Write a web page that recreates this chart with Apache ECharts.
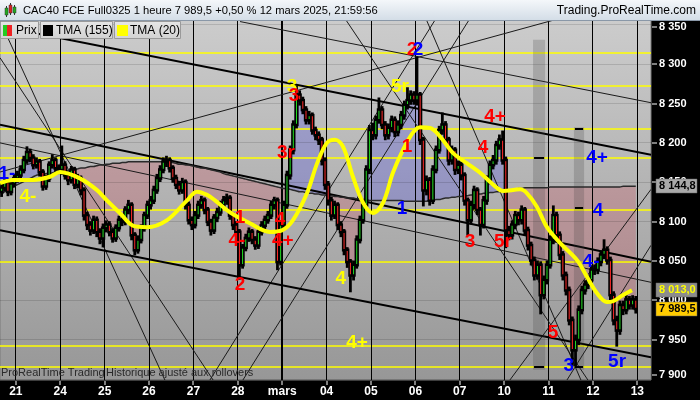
<!DOCTYPE html>
<html><head><meta charset="utf-8">
<script src="https://cdn.jsdelivr.net/npm/echarts@6/dist/echarts.min.js"></script>
<style>html,body{margin:0;padding:0;background:#000}#c{width:700px;height:400px}</style>
</head><body><div id="c"></div><script>
// ---------------- DATA ----------------
const dayLabels = ['21','24','25','26','27','28','mars','04','05','06','07','10','11','12','13'];
const barsPerDay = 14;
const firstDayStart = 5;
const yTicks = [7900,7950,8000,8050,8100,8150,8200,8250,8300,8350];

const open = [8138,8143,8150,8138,8148,
8155,8159,8166,8178,8188,8181,8172,8176,8163,8145,8155,8172,8178,8168,
8166,8172,8159,8153,8166,8147,8155,8140,8108,8096,8089,8102,8087,8079,
8092,8096,8087,8079,8092,8102,8100,8115,8121,8083,8064,8077,8092,8108,
8121,8127,8140,8155,8166,8176,8178,8168,8155,8147,8140,8150,8121,8102,
8096,8108,8121,8127,8115,8100,8089,8105,8112,8121,8127,8130,8108,8096,
8087,8045,8067,8079,8087,8077,8070,8087,8095,8102,8108,8121,8127,8049,
8096,8121,8159,8191,8223,8261,8254,8242,8229,8235,8216,8210,8204,8178,
8147,8127,8108,8121,8096,8087,8064,8049,8032,8045,8077,8102,8121,8166,
8216,8210,8229,8242,8223,8210,8219,8229,8214,8223,8235,8248,8254,8261,
8254,8261,8204,8140,8153,8127,8166,8191,8216,8223,8204,8178,8191,8166,
8172,8159,8127,8102,8121,8140,8115,8096,8127,8153,8172,8178,8197,8204,
8178,8089,8083,8096,8108,8102,8115,8089,8070,8051,8032,8045,8007,8026,
8045,8077,8108,8083,8058,8032,8013,7975,7937,7950,7988,8013,8020,8026,
8039,8039,8049,8058,8064,8051,8007,7975,7962,7994,7988,8001,7994,8001];
const close = [8143,8150,8138,8148,8155,
8159,8166,8178,8188,8181,8172,8176,8163,8145,8155,8172,8178,8168,8166,
8172,8159,8153,8166,8147,8155,8140,8108,8096,8089,8102,8087,8079,8092,
8096,8087,8079,8092,8102,8100,8115,8121,8083,8064,8077,8092,8108,8121,
8127,8140,8155,8166,8176,8178,8168,8155,8147,8140,8150,8121,8102,8096,
8108,8121,8127,8115,8100,8089,8105,8112,8121,8127,8130,8108,8096,8087,
8045,8067,8079,8087,8077,8070,8087,8095,8102,8108,8121,8127,8049,8096,
8121,8159,8191,8223,8261,8254,8242,8229,8235,8216,8210,8204,8178,8147,
8127,8108,8121,8096,8087,8064,8049,8032,8045,8077,8102,8121,8166,8216,
8210,8229,8242,8223,8210,8219,8229,8214,8223,8235,8248,8254,8261,8254,
8261,8204,8140,8153,8127,8166,8191,8216,8223,8204,8178,8191,8166,8172,
8159,8127,8102,8121,8140,8115,8096,8127,8153,8172,8178,8197,8204,8178,
8089,8083,8096,8108,8102,8115,8089,8070,8051,8032,8045,8007,8026,8045,
8077,8108,8083,8058,8032,8013,7975,7937,7950,7988,8013,8020,8026,8039,
8039,8049,8058,8064,8051,8007,7975,7962,7994,7988,8001,7994,8001,7989.5];
const high = [8150,8156,8154,8152,8160,
8164,8171,8183,8195,8192,8185,8181,8179,8166,8159,8176,8185,8181,8172,
8196,8176,8163,8170,8169,8160,8158,8143,8112,8100,8107,8106,8091,8097,
8101,8100,8091,8096,8107,8108,8119,8127,8124,8086,8082,8096,8112,8126,
8132,8145,8160,8171,8181,8183,8181,8171,8159,8151,8155,8153,8125,8106,
8113,8126,8132,8130,8118,8103,8109,8117,8126,8132,8135,8133,8111,8100,
8090,8071,8084,8092,8090,8081,8091,8100,8107,8113,8126,8131,8130,8100,
8126,8164,8196,8228,8272,8266,8258,8246,8240,8238,8220,8214,8207,8181,
8151,8131,8126,8124,8100,8090,8067,8052,8050,8082,8107,8126,8171,8222,
8225,8234,8257,8246,8227,8224,8234,8233,8228,8240,8253,8270,8266,8265,
8309,8264,8207,8158,8156,8171,8196,8221,8238,8227,8207,8196,8194,8177,
8176,8162,8130,8126,8145,8143,8118,8132,8158,8177,8184,8202,8210,8215,
8182,8094,8101,8113,8112,8120,8118,8093,8074,8055,8050,8049,8031,8050,
8082,8120,8112,8087,8062,8036,8017,7979,7956,7993,8018,8025,8031,8044,
8045,8054,8063,8077,8068,8055,8011,7980,7999,7999,8006,8005,8006,8005];
const low = [8132,8139,8133,8134,8144,
8150,8155,8162,8174,8176,8167,8168,8158,8140,8141,8151,8168,8163,8161,
8160,8154,8147,8149,8142,8143,8134,8102,8090,8083,8085,8081,8072,8068,
8087,8082,8074,8075,8088,8095,8096,8110,8077,8058,8060,8073,8088,8104,
8116,8123,8136,8151,8162,8170,8163,8150,8142,8135,8136,8116,8097,8090,
8092,8104,8117,8110,8095,8083,8085,8100,8108,8117,8122,8103,8090,8081,
8027,8041,8063,8075,8072,8065,8066,8083,8091,8098,8104,8116,8039,8045,
8092,8117,8154,8186,8219,8248,8237,8224,8224,8211,8204,8198,8172,8141,
8121,8102,8104,8090,8081,8058,8042,8011,8026,8041,8073,8098,8117,8161,
8204,8205,8225,8218,8204,8205,8214,8208,8209,8218,8230,8243,8249,8249,
8248,8198,8120,8134,8121,8123,8162,8187,8211,8198,8172,8173,8160,8161,
8153,8121,8083,8097,8116,8109,8083,8092,8122,8148,8167,8173,8192,8173,
8067,8077,8078,8091,8096,8097,8083,8064,8045,8026,8027,7983,8002,8021,
8041,8072,8077,8052,8026,8007,7969,7917,7917,7944,7983,8008,8015,8021,
8033,8034,8044,8053,8046,8001,7969,7942,7957,7982,7983,7989,7989,7984];

const tma155 = [8135,8138,8140,8142,8145,
8147,8149,8151,8153,8155,8157,8159,8160,8160,8161,8161,8162,8163,8163,
8164,8165,8165,8166,8166,8167,8168,8168,8169,8170,8170,8171,8172,8172,
8173,8173,8174,8174,8174,8175,8175,8176,8176,8176,8176,8176,8176,8176,
8176,8176,8176,8176,8176,8176,8176,8175,8174,8173,8173,8172,8172,8171,
8170,8169,8168,8168,8167,8166,8165,8164,8163,8161,8160,8159,8158,8157,
8156,8155,8154,8153,8152,8151,8150,8149,8148,8147,8146,8145,8144,8143,
8142,8142,8141,8140,8139,8138,8138,8137,8136,8136,8135,8135,8134,8134,
8133,8133,8132,8132,8131,8131,8130,8130,8130,8129,8129,8128,8128,8127,
8127,8127,8127,8127,8127,8127,8127,8127,8127,8127,8126,8126,8126,8126,
8126,8126,8126,8126,8127,8127,8128,8128,8129,8130,8130,8131,8131,8132,
8132,8133,8133,8134,8134,8135,8135,8136,8136,8137,8137,8138,8138,8139,
8139,8140,8140,8141,8142,8142,8143,8143,8143,8143,8143,8143,8143,8143,
8144,8144,8144,8144,8144,8144,8144,8144,8144,8144,8144,8144,8144,8144,
8144,8144,8144,8144,8144,8144,8144,8144,8144,8145,8145,8145,8145,8144.8];

// TMA(20) read at [bar position, value]
const tma20 = [[0,8149],[4.1,8153],[10.4,8153],[15.8,8157],[18.9,8163],[25.2,8155],[30.6,8140],[33.7,8127],[37.8,8111],[41.9,8095],[46.4,8093],[52.7,8102],[59.0,8127],[62.1,8138],[65.3,8134],[67.8,8127],[72.5,8112],[78.8,8098],[85.1,8087],[88.9,8089],[92.4,8102],[96.8,8136],[100.0,8174],[103.1,8200],[105.6,8204],[108.2,8195],[111.3,8157],[114.5,8124],[117.6,8111],[120.8,8124],[123.9,8162],[127.1,8191],[130.2,8213],[132.5,8220],[135.6,8219],[138.8,8208],[142.9,8187],[147.3,8174],[151.4,8162],[156.7,8143],[158.6,8139],[164.0,8141],[166.2,8136],[169.3,8119],[172.5,8093],[176.6,8073],[182.0,8051],[185.1,8030],[188.3,8009],[191.4,7998],[193.3,7999],[196.5,8007],[199.3,8013.0]];

const levels = [8314,8272,8218,8181,8115,8049,7942,7915];
// trend lines: [bar position 1, price 1, bar position 2, price 2]
const thickLines = [[0,8348,205.3,8185],[0,8223,205.3,8049],[0,8089,205.3,7928]];
const thinLines = [[75.7,8354,205.3,8251],[0,8200,205.3,8023],[0,8308,67.2,7899],[0,8163,174.7,8356],
  [0,8355,52.0,7899],[66.2,7899,137.2,8356],[76.6,7899,147.9,8356],[109.1,8356,185.4,7899],
  [134.5,8356,183.2,7899],[160.8,7899,205.3,8141],[178.8,7899,205.3,8070]];
const bands = [[168.1,8331,171.9,7912],[181.0,8220,184.2,7912]];
const bandMarks = [[168.1,8181,171.9],[168.1,7916,171.9],[181.0,8218,184.2],[181.0,8117,184.2],[181.0,7916,184.2]];

const yellowLabels = [[8.8,8131,'4-'],[92.1,8271,'3'],[126.1,8271,'5r'],[107.5,8028,'4'],[112.6,7946,'4+']];
const redLabels = [[75.7,8105,'1'],[74.7,8076,'4-'],[75.7,8020,'2'],[88.3,8103,'4'],[89.2,8076,'4+'],[92.7,8260,'3'],[90.2,8187,'3r'],[129.9,8318,'2'],[128.4,8195,'1'],[156.1,8233,'4+'],[152.3,8194,'4'],[148.2,8074,'3'],[158.6,8074,'5r'],[174.4,7959,'5']];
const blueLabels = [[2.2,8161,'1-'],[131.8,8318,'2'],[126.8,8117,'1'],[188.3,8181,'4+'],[188.6,8114,'4'],[186.4,8049,'4-'],[179.4,7917,'3'],[194.6,7922,'5r']];

// ---------------- CHART ----------------
const X_MAX = 205.3, Y_MIN = 7899, Y_MAX = 8356;
const FONT = '"Liberation Sans", Arial, Helvetica, sans-serif';
const chart = echarts.init(document.getElementById('c'), null, {renderer:'canvas', width:700, height:400});

const dayStarts = dayLabels.map((d,k)=>firstDayStart + k*barsPerDay);
const bars = close.map((c,i)=>[i+0.5, open[i], c, low[i], high[i]]);

const runs = [];
let cur = null;
for (let i=0;i<close.length;i++){
  const t=i+0.5, d=close[i]-tma155[i], s=d>=0?1:-1;
  if(!cur){cur={s,top:[[t,close[i]]],bot:[[t,tma155[i]]]};continue;}
  if(s===cur.s){cur.top.push([t,close[i]]);cur.bot.push([t,tma155[i]]);}
  else{
    const dp=close[i-1]-tma155[i-1], f=dp/(dp-d), tx=i-0.5+f, vx=tma155[i-1]+f*(tma155[i]-tma155[i-1]);
    cur.top.push([tx,vx]);cur.bot.push([tx,vx]);runs.push(cur);
    cur={s,top:[[tx,vx],[t,close[i]]],bot:[[tx,vx],[t,tma155[i]]]};
  }
}
runs.push(cur);

function crisp(v,w){return (w%2===1)?Math.round(v-0.5)+0.5:Math.round(v);}
function segSeries(rows, color, width, z){
  return {type:'custom', silent:true, clip:true, z,
    encode:{x:[0,2], y:[1,3]}, data: rows,
    renderItem:(p,api)=>{
      const a=api.coord([api.value(0),api.value(1)]), b=api.coord([api.value(2),api.value(3)]);
      let x1=a[0],y1=a[1],x2=b[0],y2=b[1];
      if(Math.abs(x1-x2)<0.01){x1=x2=crisp(x1,width);}
      if(Math.abs(y1-y2)<0.01){y1=y2=crisp(y1,width);}
      return {type:'line', shape:{x1,y1,x2,y2}, style:{stroke:color, lineWidth:width}};
    }};
}
function labelSeries(rows,color){
  return {type:'custom', silent:true, clip:false, z:20, encode:{x:0,y:1},
    data: rows.map(r=>[r[0],r[1]]),
    renderItem:(p,api)=>{const c=api.coord([api.value(0),api.value(1)]);
      return {type:'text', x:c[0], y:c[1], style:{text:rows[p.dataIndex][2], fill:color, font:'bold 19px '+FONT, align:'center', verticalAlign:'middle'}};}};
}

const series = [
  {type:'custom', silent:true, clip:true, z:1, encode:{x:0,y:1},
   data: runs.map(r=>[r.top[0][0], r.top[0][1]]),
   renderItem:(p,api)=>{const r=runs[p.dataIndex];
     const pts=r.top.concat(r.bot.slice().reverse()).map(q=>api.coord(q));
     return {type:'polygon', shape:{points:pts}, style:{fill: r.s>0?'rgba(90,90,220,0.34)':'rgba(205,80,95,0.28)'}};}},
  segSeries(yTicks.map(v=>[0,v,X_MAX,v]), 'rgba(0,0,0,0.13)', 1, 2),
  segSeries(levels.map(v=>[0,v,X_MAX,v]), '#ffff00', 1.5, 3),
  segSeries(dayStarts.filter((t,k)=>dayLabels[k]!=='mars').map(t=>[t,Y_MIN,t,Y_MAX]), '#000', 1, 3),
  segSeries(dayStarts.filter((t,k)=>dayLabels[k]==='mars').map(t=>[t,Y_MIN,t,Y_MAX]), '#000', 2, 3),
  segSeries(thinLines, '#1a1a1a', 1, 4),
  segSeries(thickLines, '#000', 2, 4),
  {type:'custom', silent:true, clip:true, z:5, encode:{x:[0,2],y:[1,3]}, data: bands,
   renderItem:(p,api)=>{const a=api.coord([api.value(0),api.value(1)]), b=api.coord([api.value(2),api.value(3)]);
     return {type:'rect', shape:{x:a[0],y:a[1],width:b[0]-a[0],height:b[1]-a[1]}, style:{fill:'rgba(60,60,60,0.22)'}};}},
  {type:'custom', silent:true, clip:true, z:5, encode:{x:[0,2],y:1}, data: bandMarks,
   renderItem:(p,api)=>{const a=api.coord([api.value(0),api.value(1)]), b=api.coord([api.value(2),api.value(1)]);
     return {type:'rect', shape:{x:a[0]+1,y:Math.round(a[1])-1,width:b[0]-a[0]-2,height:2}, style:{fill:'#000'}};}},
  {type:'line', data: tma155.map((v,i)=>[i+0.5,v]), symbol:'none', smooth:0.3, z:6, silent:true,
   lineStyle:{color:'#2a2a2a', width:1.5}},
  {type:'custom', silent:true, clip:true, z:7, encode:{x:0,y:[1,2,3,4]}, data: bars,
   renderItem:(p,api)=>{
     const t=api.value(0), o=api.value(1), c=api.value(2), l=api.value(3), h=api.value(4);
     const pO=api.coord([t,o]), pC=api.coord([t,c]), pL=api.coord([t,l]), pH=api.coord([t,h]);
     const w=api.size([1,0])[0];
     const x=pO[0];
     const top=Math.min(pO[1],pC[1]), bot=Math.max(pO[1],pC[1]);
     const ch=[
       {type:'rect', shape:{x:x-1.4,y:pH[1]-0.5,width:2.8,height:pL[1]-pH[1]+1}, style:{fill:'#000'}},
       {type:'rect', shape:{x:x-w*0.68,y:top-1.5,width:w*1.36,height:bot-top+3}, style:{fill:'#000'}}
     ];
     if(bot-top>2.5) ch.push({type:'rect', shape:{x:x-0.5,y:top+1,width:1,height:bot-top-2}, style:{fill: c>=o?'#22dd22':'#ff2a2a'}});
     return {type:'group', children:ch};
   }},
  {type:'line', data: tma20, symbol:'none', smooth:0.35, z:8, silent:true,
   lineStyle:{color:'#ffff00', width:4}},
  labelSeries(yellowLabels,'#ffff00'),
  labelSeries(redLabels,'#ff0000'),
  labelSeries(blueLabels,'#0000ff')
];

chart.setOption({
  backgroundColor:'#000',
  animation:false,
  grid:{left:0, top:20, width:651, height:360, show:true, borderWidth:1, borderColor:'#7a7a7a',
    backgroundColor:new echarts.graphic.LinearGradient(0,0,0,1,[{offset:0,color:'#cccccc'},{offset:1,color:'#979797'}])},
  xAxis:{type:'value', min:0, max:X_MAX, show:false, splitLine:{show:false}},
  yAxis:{type:'value', min:Y_MIN, max:Y_MAX, show:false, position:'right', splitLine:{show:false}, scale:true},
  series
});

const toPx = (t,v)=>chart.convertToPixel({gridIndex:0},[t,v]);
const fmt = (v,dec)=>{const s=v.toFixed(dec).split('.');return s[0].replace(/\B(?=(\d{3})+(?!\d))/g,' ')+(dec?','+s[1]:'');};
const els = [];
els.push({type:'rect', shape:{x:0,y:0,width:700,height:21}, z:50,
  style:{fill:new echarts.graphic.LinearGradient(0,0,0,1,[{offset:0,color:'#f4f7fa'},{offset:1,color:'#d2dce6'}])}});
els.push({type:'rect', shape:{x:0,y:20,width:700,height:1}, z:51, style:{fill:'#8a98a8'}});
[[5,8,3,7,'#22aa22'],[9,5,3,8,'#dd2222'],[13,7,3,6,'#22aa22']].forEach(r=>{
  els.push({type:'rect', shape:{x:r[0]+1,y:r[1]-2,width:1,height:r[3]+4}, z:52, style:{fill:'#333'}});
  els.push({type:'rect', shape:{x:r[0],y:r[1],width:r[2],height:r[3]}, z:53, style:{fill:r[4], stroke:'#333', lineWidth:0.5}});
});
els.push({type:'text', x:23, y:11, z:53, style:{text:'CAC40 FCE Full0325 1 heure 7 989,5 +0,50 % 12 mars 2025, 21:59:56', font:'11.2px '+FONT, fill:'#000', verticalAlign:'middle'}});
els.push({type:'text', x:696, y:11, z:53, style:{text:'Trading.ProRealTime.com', font:'12px '+FONT, fill:'#000', align:'right', verticalAlign:'middle'}});
const leg = [[0,39,'Prix'],[40,73,'TMA (155)'],[114,67,'TMA (20)']];
leg.forEach((b,k)=>{
  els.push({type:'rect', shape:{x:b[0]+0.5,y:21.5,width:b[1]-1,height:17}, z:52,
    style:{fill:new echarts.graphic.LinearGradient(0,0,0,1,[{offset:0,color:'#e6e6e6'},{offset:1,color:'#d2d2d2'}]), stroke:'#9a9a9a', lineWidth:1}});
  els.push({type:'text', x:b[0]+16, y:30.5, z:53, style:{text:b[2], font:'12px '+FONT, fill:'#000', verticalAlign:'middle'}});
});
els.push({type:'rect', shape:{x:3,y:25,width:4,height:11}, z:53, style:{fill:'#22cc22'}});
els.push({type:'rect', shape:{x:7,y:25,width:5,height:11}, z:53, style:{fill:'#ee2222'}});
els.push({type:'rect', shape:{x:43,y:25,width:10,height:11}, z:53, style:{fill:'#000'}});
els.push({type:'rect', shape:{x:117,y:25,width:11,height:11}, z:53, style:{fill:'#ffff00'}});
els.push({type:'text', x:1, y:373, z:30, style:{text:'ProRealTime Trading', font:'11px '+FONT, fill:'#2a2a2a', verticalAlign:'middle'}});
els.push({type:'text', x:106, y:373, z:30, style:{text:'Historique ajusté aux rollovers', font:'11px '+FONT, fill:'#2a2a2a', verticalAlign:'middle'}});
els.push({type:'rect', shape:{x:652,y:21,width:48,height:379}, z:40, style:{fill:'#000'}});
els.push({type:'rect', shape:{x:0,y:381,width:700,height:19}, z:40, style:{fill:'#000'}});
yTicks.forEach(v=>{
  const y=Math.min(Math.max(toPx(0,v)[1],27),375);
  els.push({type:'rect', shape:{x:652,y:Math.round(y)-0.5,width:5,height:1}, z:41, style:{fill:'#fff'}});
  els.push({type:'text', x:659, y:y, z:41, style:{text:fmt(v,0), font:'bold 11px '+FONT, fill:'#fff', verticalAlign:'middle'}});
});
const boxes = [[tma155[tma155.length-1],'#a9a9a9','#000'],[tma20[tma20.length-1][1],'#8c8c8c','#ffff00'],[close[close.length-1],'#ffcc00','#000']];
boxes.forEach(b=>{
  const y=toPx(0,b[0])[1];
  els.push({type:'rect', shape:{x:656,y:Math.round(y)-7,width:41,height:14}, z:42, style:{fill:b[1], stroke:'#666', lineWidth:0.5}});
  els.push({type:'text', x:659, y:Math.round(y), z:43, style:{text:fmt(b[0],1), font:'bold 11px '+FONT, fill:b[2], verticalAlign:'middle'}});
});
dayStarts.forEach((t,k)=>{
  const x=toPx(t,Y_MIN)[0];
  els.push({type:'rect', shape:{x:Math.round(x)-0.5,y:381,width:1,height:4}, z:41, style:{fill:'#fff'}});
  els.push({type:'text', x:x, y:392, z:41, style:{text:dayLabels[k], font:'bold 12px '+FONT, fill:'#fff', align:'center', verticalAlign:'middle'}});
});
chart.setOption({graphic:{elements:els}});
</script></body></html>
